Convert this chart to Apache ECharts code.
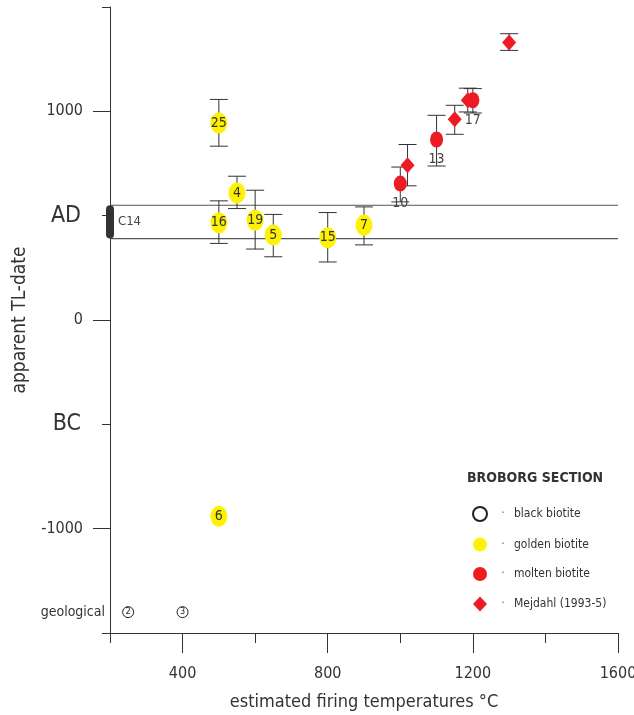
<!DOCTYPE html>
<html>
<head>
<meta charset="utf-8">
<script src="https://cdn.jsdelivr.net/npm/echarts@6/dist/echarts.min.js"></script>
<style>html,body{margin:0;padding:0;background:#fff}#c{width:634px;height:715px}</style>
</head>
<body>
<div id="c"></div>
<script>
// ---- data ----
const xRange = [200, 1600];
const yRange = [-1500, 1500];
const xTickLabels = [400, 800, 1200, 1600];
const yLabelValues = [1000, 500, 0, -500, -1000, -1400];
const yLabelTexts = ['1000', 'AD', '0', 'BC', '-1000', 'geological'];
const c14Range = [390, 550];

const goldenX  = [500, 550, 500, 600, 650, 800, 900, 500];
const goldenY  = [944, 609, 466, 478, 407, 394, 455, -941];
const goldenLo = [833, 534, 367, 340, 303, 278, 360, null];
const goldenHi = [1057, 689, 571, 622, 506, 515, 542, null];
const goldenId = ['25', '4', '16', '19', '5', '15', '7', '6'];

const moltenX  = [1000, 1100, 1200];
const moltenY  = [654, 865, 1053];
const moltenLo = [566, 738, 992];
const moltenHi = [733, 981, 1109];
const moltenId = ['10', '13', '17'];

const mejdahlX  = [1020, 1150, 1186, 1300];
const mejdahlY  = [742, 962, 1053, 1330];
const mejdahlLo = [643, 890, 997, 1292];
const mejdahlHi = [841, 1029, 1111, 1372];

const blackX  = [250, 400];
const blackY  = [-1400, -1400];
const blackId = ['2', '3'];

// ---- build ----
const FONT = "'Liberation Sans Narrow', 'DejaVu Sans Condensed', 'Liberation Sans', Arial, sans-serif";
const INK = '#333';
const YELLOW = '#fff200';
const RED = '#ed1c24';

function pts(xs, ys, ids) { return xs.map((x, i) => [x, ys[i], ids ? ids[i] : '']); }
const errData = [];
[[goldenX, goldenLo, goldenHi], [moltenX, moltenLo, moltenHi], [mejdahlX, mejdahlLo, mejdahlHi]].forEach(([xs, lo, hi]) => {
  xs.forEach((x, i) => { if (lo[i] != null) errData.push([x, lo[i], hi[i]]); });
});

const chart = echarts.init(document.getElementById('c'), null, { renderer: 'canvas' });
chart.setOption({
  animation: false,
  backgroundColor: '#fff',
  textStyle: { fontFamily: FONT },
  title: {
    text: 'BROBORG SECTION', left: 462, top: 466,
    textStyle: { fontFamily: FONT, fontSize: 14, fontWeight: 'bold', color: INK }
  },
  legend: {
    orient: 'vertical', left: 467, top: 501,
    itemWidth: 14, itemHeight: 15, itemGap: 15.5,
    data: ['black biotite', 'golden biotite', 'molten biotite', 'Mejdahl (1993-5)'],
    formatter: n => '{d|·}{t|' + n + '}',
    textStyle: {
      fontFamily: FONT, color: INK,
      rich: {
        d: { width: 22, align: 'center', fontSize: 12, color: '#666' },
        t: { fontSize: 12, color: INK, fontFamily: FONT }
      }
    }
  },
  grid: { left: 110, right: 16, top: 7, bottom: 82, containLabel: false, outerBoundsMode: 'none' },
  xAxis: [
    {
      type: 'value', min: xRange[0], max: xRange[1], interval: 200,
      axisLine: { show: true, onZero: false, lineStyle: { color: INK, width: 1 } },
      axisTick: { show: true, length: 10, lineStyle: { color: INK } },
      axisLabel: { show: false }, splitLine: { show: false }
    },
    {
      type: 'value', min: xRange[0], max: xRange[1], position: 'bottom', offset: 0,
      axisLine: { show: false, onZero: false },
      axisTick: { show: true, length: 20, customValues: xTickLabels, lineStyle: { color: INK } },
      axisLabel: { show: true, customValues: xTickLabels, margin: 33, fontSize: 16, color: INK, fontFamily: FONT, formatter: v => String(v) },
      splitLine: { show: false },
      name: 'estimated firing temperatures °C', nameLocation: 'middle', nameGap: 60,
      nameTextStyle: { fontSize: 18, color: INK, fontFamily: FONT }
    }
  ],
  yAxis: [
    {
      type: 'value', min: yRange[0], max: yRange[1], interval: 500,
      axisLine: { show: true, onZero: false, lineStyle: { color: INK, width: 1 } },
      axisTick: { show: true, length: 8, lineStyle: { color: INK } },
      axisLabel: { show: false }, splitLine: { show: false }
    },
    {
      type: 'value', min: yRange[0], max: yRange[1], position: 'left', offset: 0,
      axisLine: { show: false, onZero: false },
      axisTick: { show: true, length: 17, customValues: [-1000, 0, 1000], lineStyle: { color: INK } },
      axisLabel: {
        show: true, customValues: yLabelValues, margin: 5,
        formatter: v => {
          const i = yLabelValues.indexOf(v);
          const t = i >= 0 ? yLabelTexts[i] : '';
          if (t === 'AD' || t === 'BC') return '{b|' + t + '}';
          if (t === 'geological') return '{g|' + t + '}';
          return '{n|' + t + '}';
        },
        rich: {
          n: { fontSize: 16, color: INK, padding: [0, 22, 0, 0], fontFamily: FONT },
          b: { fontSize: 23, color: INK, padding: [0, 24, 0, 0], fontFamily: FONT },
          g: { fontSize: 14, color: INK, fontFamily: FONT }
        }
      },
      splitLine: { show: false },
      name: 'apparent TL-date', nameLocation: 'middle', nameGap: 78, nameRotate: 90,
      nameTextStyle: { fontSize: 19, color: INK, fontFamily: FONT }
    }
  ],
  series: [
    {
      name: 'c14', type: 'custom', z: 1, silent: true,
      data: [[c14Range[0], c14Range[1]]],
      encode: { y: [0, 1] },
      renderItem: (params, api) => {
        const lo = api.value(0), hi = api.value(1);
        const pL1 = api.coord([xRange[0], lo]), pR1 = api.coord([xRange[1], lo]);
        const pL2 = api.coord([xRange[0], hi]), pR2 = api.coord([xRange[1], hi]);
        return {
          type: 'group', children: [
            { type: 'line', shape: { x1: pL1[0], y1: pL1[1], x2: pR1[0], y2: pR1[1] }, style: { stroke: '#555', lineWidth: 1.2 } },
            { type: 'line', shape: { x1: pL2[0], y1: pL2[1], x2: pR2[0], y2: pR2[1] }, style: { stroke: '#555', lineWidth: 1.2 } },
            { type: 'rect', shape: { x: pL2[0] - 4, y: pL2[1], width: 8, height: pL1[1] - pL2[1], r: 4 }, style: { fill: '#333' } },
            { type: 'text', x: pL2[0] + 8, y: (pL1[1] + pL2[1]) / 2, style: { text: 'C14', fontSize: 13, fontFamily: FONT, fill: '#444', verticalAlign: 'middle', align: 'left' } }
          ]
        };
      }
    },
    {
      name: 'err', type: 'custom', z: 2, silent: true,
      data: errData,
      encode: { x: 0, y: [1, 2] },
      renderItem: (params, api) => {
        const a = api.coord([api.value(0), api.value(1)]);
        const b = api.coord([api.value(0), api.value(2)]);
        const w = 9;
        const st = { stroke: '#333', lineWidth: 1 };
        return {
          type: 'group', children: [
            { type: 'line', shape: { x1: a[0], y1: a[1], x2: b[0], y2: b[1] }, style: st },
            { type: 'line', shape: { x1: a[0] - w, y1: a[1], x2: a[0] + w, y2: a[1] }, style: st },
            { type: 'line', shape: { x1: b[0] - w, y1: b[1], x2: b[0] + w, y2: b[1] }, style: st }
          ]
        };
      }
    },
    {
      name: 'black biotite', type: 'scatter', z: 3,
      symbol: 'circle', symbolSize: 11,
      itemStyle: { color: '#fff', borderColor: '#222', borderWidth: 1, opacity: 1 },
      label: { show: true, position: 'inside', formatter: p => p.data[2], fontSize: 9, color: '#222', fontFamily: FONT },
      data: pts(blackX, blackY, blackId)
    },
    {
      name: 'golden biotite', type: 'scatter', z: 3,
      symbol: 'circle', symbolSize: [17, 21],
      itemStyle: { color: YELLOW, opacity: 1 },
      label: { show: true, position: 'inside', formatter: p => p.data[2], fontSize: 14, color: '#333', fontFamily: FONT },
      data: pts(goldenX, goldenY, goldenId)
    },
    {
      name: 'molten biotite', type: 'scatter', z: 3,
      symbol: 'circle', symbolSize: [13, 16],
      itemStyle: { color: RED, opacity: 1 },
      label: { show: true, position: 'bottom', distance: 5, formatter: p => p.data[2], fontSize: 14, color: '#444', fontFamily: FONT },
      data: pts(moltenX, moltenY, moltenId)
    },
    {
      name: 'Mejdahl (1993-5)', type: 'scatter', z: 4,
      symbol: 'diamond', symbolSize: [14, 16],
      itemStyle: { color: RED, opacity: 1 },
      data: pts(mejdahlX, mejdahlY)
    }
  ]
});
</script>
</body>
</html>
